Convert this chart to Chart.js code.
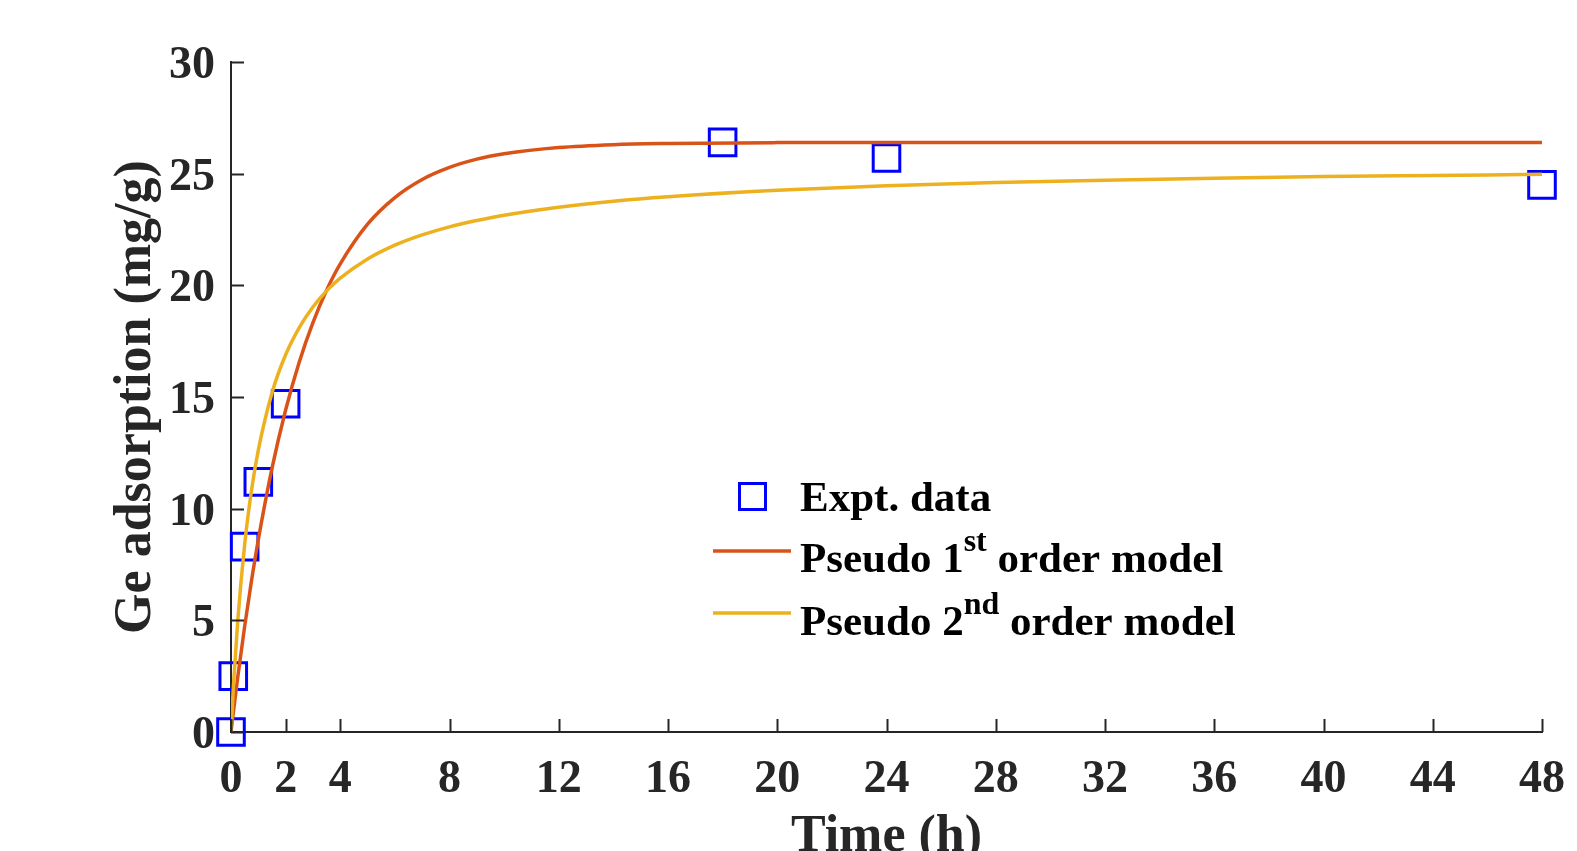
<!DOCTYPE html>
<html>
<head>
<meta charset="utf-8">
<title>Ge adsorption kinetics</title>
<script src="https://cdn.jsdelivr.net/npm/chart.js@4/dist/chart.umd.min.js"></script>
<style>
  html, body { margin: 0; padding: 0; background: #fff; overflow: hidden; }
  #wrap { width: 1577px; height: 851px; }
</style>
</head>
<body>
<div id="wrap"><canvas id="kinetics" width="1577" height="851"></canvas></div>
<script>
// experimental points (time in h, uptake in mg/g)
const exptTime = [0, 0.083, 0.5, 1, 2, 18, 24, 48];
const exptQ = [0, 2.5, 8.3, 11.2, 14.7, 26.4, 25.7, 24.5];

// model curves
const modelTime = [0, 0.05, 0.1, 0.25, 0.5, 0.75, 1, 1.5, 2, 2.5, 3, 3.5, 4, 5, 6, 7, 8, 9, 10, 12, 14, 16, 20, 24, 28, 32, 36, 40, 44, 48];
const pfoQ = [0, 0.52, 1.02, 2.48, 4.73, 6.77, 8.61, 11.8, 14.42, 16.57, 18.33, 19.78, 20.96, 22.74, 23.93, 24.74, 25.28, 25.65, 25.89, 26.17, 26.3, 26.35, 26.39, 26.4, 26.4, 26.4, 26.4, 26.4, 26.4, 26.4];
const psoQ = [0, 1.19, 2.28, 5.02, 8.39, 10.81, 12.62, 15.18, 16.89, 18.11, 19.03, 19.75, 20.32, 21.18, 21.8, 22.26, 22.62, 22.9, 23.14, 23.5, 23.77, 23.97, 24.26, 24.46, 24.6, 24.71, 24.8, 24.87, 24.92, 24.97];

// tick labels
const xTicks = [0, 2, 4, 8, 12, 16, 20, 24, 28, 32, 36, 40, 44, 48];
const yTicks = [0, 5, 10, 15, 20, 25, 30];

const axisColor = '#262626';
const serif = "'Liberation Serif', 'Times New Roman', serif";

const toXY = (xs, ys) => xs.map((x, i) => ({ x: x, y: ys[i] }));

// inward tick marks, MATLAB style
const innerTicks = {
  id: 'innerTicks',
  afterDraw(chart) {
    const { ctx, scales: { x, y } } = chart;
    ctx.save();
    ctx.strokeStyle = axisColor;
    ctx.lineWidth = 2;
    ctx.beginPath();
    xTicks.forEach(v => {
      const px = Math.round(x.getPixelForValue(v)) + 0.5;
      ctx.moveTo(px, y.bottom);
      ctx.lineTo(px, y.bottom - 13);
    });
    yTicks.forEach(v => {
      const py = Math.round(y.getPixelForValue(v)) + 0.5;
      ctx.moveTo(x.left, py);
      ctx.lineTo(x.left + 13, py);
    });
    ctx.stroke();
    ctx.restore();
  }
};

// axis titles
const axisTitles = {
  id: 'axisTitles',
  afterDraw(chart) {
    const { ctx, chartArea: a } = chart;
    ctx.save();
    ctx.fillStyle = axisColor;
    ctx.font = 'bold 52px ' + serif;
    ctx.textAlign = 'center';
    ctx.textBaseline = 'alphabetic';
    ctx.fillText('Time (h)', (a.left + a.right) / 2, 851);
    ctx.translate(150, (a.top + a.bottom) / 2);
    ctx.rotate(-Math.PI / 2);
    ctx.fillText('Ge adsorption (mg/g)', 0, 0);
    ctx.restore();
  }
};

// legend with superscripts
const supLegend = {
  id: 'supLegend',
  afterDraw(chart) {
    const { ctx } = chart;
    const ds = chart.data.datasets;
    const textX = 800;
    const mainFont = 'bold 43px ' + serif;
    const supFont = 'bold 32px ' + serif;
    ctx.save();
    // marker entry
    ctx.strokeStyle = ds[0].borderColor;
    ctx.lineWidth = 3;
    ctx.strokeRect(739.5, 483.5, 26, 26);
    // line entries
    [[ds[1], 551], [ds[2], 613]].forEach(([d, ly]) => {
      ctx.strokeStyle = d.borderColor;
      ctx.lineWidth = 3.5;
      ctx.beginPath();
      ctx.moveTo(713, ly);
      ctx.lineTo(791, ly);
      ctx.stroke();
    });
    ctx.fillStyle = '#000';
    ctx.textBaseline = 'alphabetic';
    ctx.textAlign = 'left';
    ctx.font = mainFont;
    ctx.fillText('Expt. data', textX, 511);
    const rows = [['Pseudo 1', 'st', ' order model', 572], ['Pseudo 2', 'nd', ' order model', 635]];
    rows.forEach(([a, s, b, base]) => {
      let cx = textX;
      ctx.font = mainFont;
      ctx.fillText(a, cx, base);
      cx += ctx.measureText(a).width;
      ctx.font = supFont;
      ctx.fillText(s, cx, base - 21);
      cx += ctx.measureText(s).width;
      ctx.font = mainFont;
      ctx.fillText(b, cx, base);
    });
    ctx.restore();
  }
};

new Chart(document.getElementById('kinetics'), {
  type: 'scatter',
  data: {
    datasets: [
      {
        label: 'Expt. data',
        data: toXY(exptTime, exptQ),
        pointStyle: 'rect',
        pointRadius: 18.8,
        pointHoverRadius: 18.8,
        pointBorderWidth: 3,
        borderColor: '#0000ff',
        backgroundColor: 'rgba(0,0,0,0)',
        clip: false,
        order: 3
      },
      {
        label: 'Pseudo 1st order model',
        data: toXY(modelTime, pfoQ),
        showLine: true,
        pointRadius: 0,
        borderColor: '#d95319',
        borderWidth: 3.5,
        cubicInterpolationMode: 'monotone',
        order: 2
      },
      {
        label: 'Pseudo 2nd order model',
        data: toXY(modelTime, psoQ),
        showLine: true,
        pointRadius: 0,
        borderColor: '#edb120',
        borderWidth: 3.5,
        cubicInterpolationMode: 'monotone',
        order: 1
      }
    ]
  },
  options: {
    responsive: false,
    animation: false,
    devicePixelRatio: 1,
    layout: { padding: { left: 0, top: 62, right: 35, bottom: 0 } },
    plugins: {
      legend: { display: false },
      tooltip: { enabled: false }
    },
    scales: {
      x: {
        type: 'linear',
        min: 0,
        max: 48,
        afterBuildTicks: s => { s.ticks = xTicks.map(v => ({ value: v })); },
        afterFit: s => { s.height = 119; s.paddingLeft = 0; s.paddingRight = 0; },
        grid: { display: false, drawTicks: false },
        border: { display: true, color: axisColor, width: 2 },
        ticks: {
          color: axisColor,
          padding: 21,
          maxRotation: 0,
          autoSkip: false,
          font: { family: serif, size: 46, weight: 'bold' }
        }
      },
      y: {
        type: 'linear',
        min: 0,
        max: 30,
        afterBuildTicks: s => { s.ticks = yTicks.map(v => ({ value: v })); },
        afterFit: s => { s.width = 231; s.paddingTop = 0; s.paddingBottom = 0; },
        grid: { display: false, drawTicks: false },
        border: { display: true, color: axisColor, width: 2 },
        ticks: {
          color: axisColor,
          padding: 16,
          labelOffset: 4,
          autoSkip: false,
          font: { family: serif, size: 46, weight: 'bold' }
        }
      }
    }
  },
  plugins: [innerTicks, axisTitles, supLegend]
});
</script>
</body>
</html>
